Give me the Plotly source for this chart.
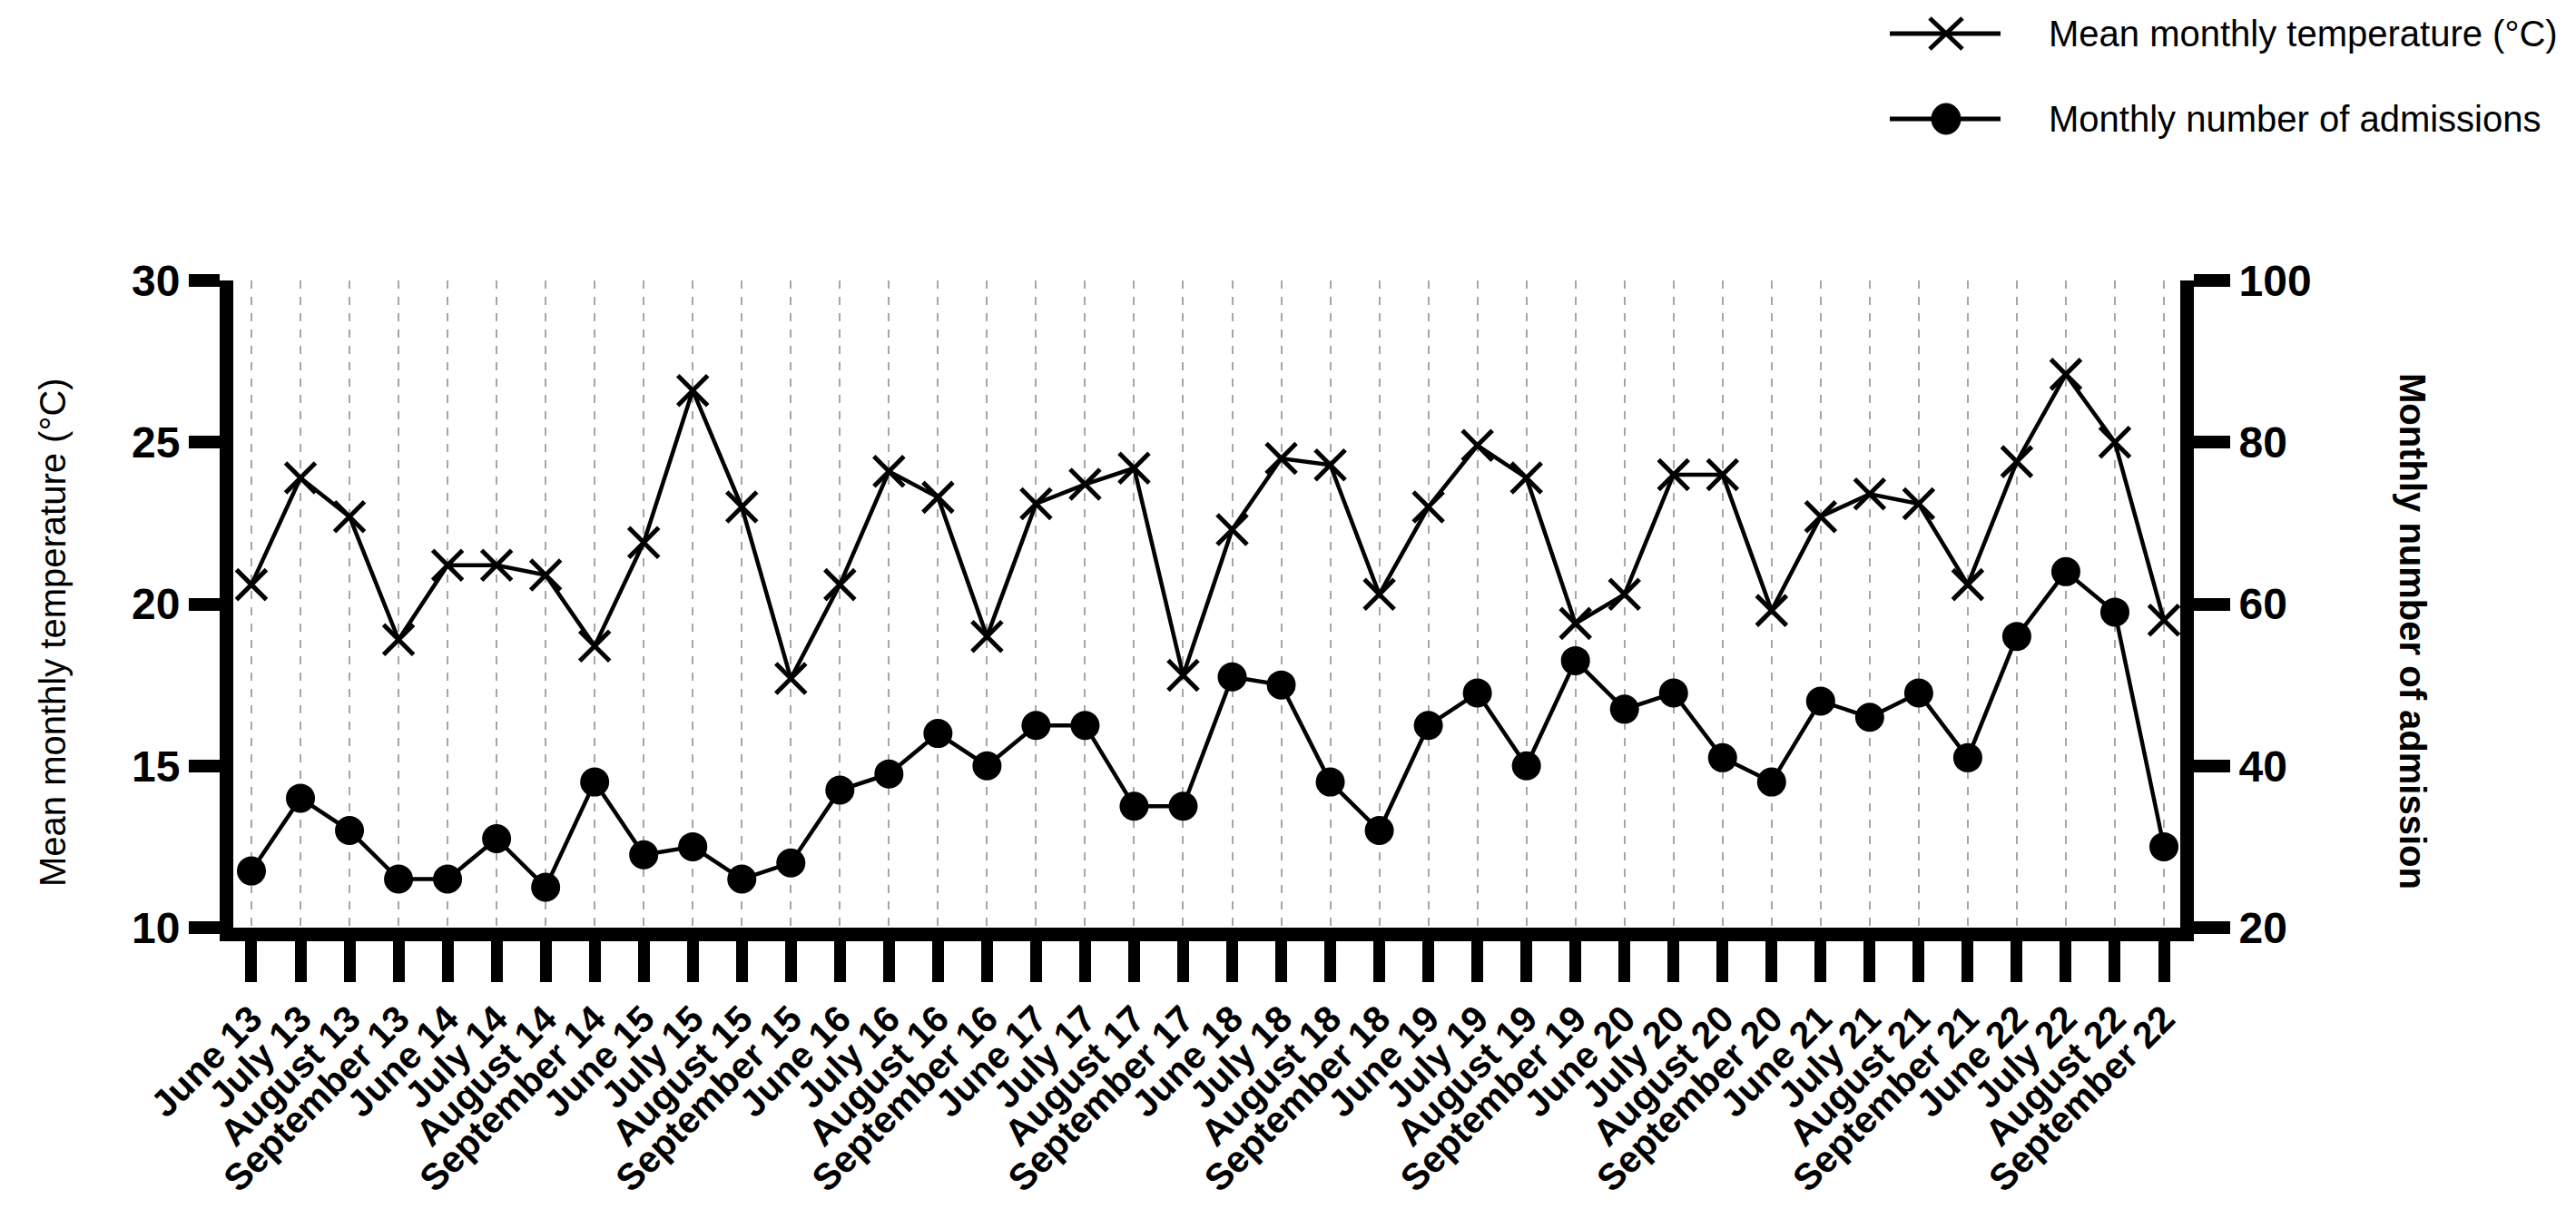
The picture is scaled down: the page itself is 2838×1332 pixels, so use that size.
import plotly.graph_objects as go

# ---------------- data ----------------
categories = [
    "June 13", "July 13", "August 13", "September 13",
    "June 14", "July 14", "August 14", "September 14",
    "June 15", "July 15", "August 15", "September 15",
    "June 16", "July 16", "August 16", "September 16",
    "June 17", "July 17", "August 17", "September 17",
    "June 18", "July 18", "August 18", "September 18",
    "June 19", "July 19", "August 19", "September 19",
    "June 20", "July 20", "August 20", "September 20",
    "June 21", "July 21", "August 21", "September 21",
    "June 22", "July 22", "August 22", "September 22",
]

temperature = [
    20.6, 23.9, 22.7, 18.9,
    21.2, 21.2, 20.9, 18.7,
    21.9, 26.6, 23.0, 17.7,
    20.6, 24.1, 23.3, 19.0,
    23.1, 23.7, 24.2, 17.8,
    22.3, 24.5, 24.3, 20.3,
    23.0, 24.9, 23.9, 19.4,
    20.3, 24.0, 24.0, 19.8,
    22.7, 23.4, 23.1, 20.6,
    24.4, 27.1, 25.0, 19.5,
]

admissions = [
    27, 36, 32, 26,
    26, 31, 25, 38,
    29, 30, 26, 28,
    37, 39, 44, 40,
    45, 45, 35, 35,
    51, 50, 38, 32,
    45, 49, 40, 53,
    47, 49, 41, 38,
    48, 46, 49, 41,
    56, 64, 59, 30,
]

temp_ticks = [10, 15, 20, 25, 30]
adm_ticks = [20, 40, 60, 80, 100]

temp_name = "Mean monthly temperature (°C)"
adm_name = "Monthly number of admissions"
left_title = "Mean monthly temperature (°C)"
right_title = "Monthly number of admission"

# ---------------- layout geometry ----------------
W, H = 2838, 1332
ML, MR, MT, MB = 249, 444, 301, 318
PW = W - ML - MR
PH = H - MT - MB

FONT = "Liberation Sans, Arial, Helvetica, sans-serif"


def px_x(px):
    return (px - ML) / PW


def px_y(py):
    return (H - MB - py) / PH


fig = go.Figure()

fig.add_trace(go.Scatter(
    x=categories, y=temperature, name=temp_name,
    mode="lines+markers",
    line=dict(color="black", width=4.5),
    marker=dict(symbol="x-thin", size=33, color="black",
                line=dict(color="black", width=5)),
    yaxis="y", showlegend=False,
))

fig.add_trace(go.Scatter(
    x=categories, y=admissions, name=adm_name,
    mode="lines+markers",
    line=dict(color="black", width=4.5),
    marker=dict(symbol="circle", size=32, color="black"),
    yaxis="y2", showlegend=False,
))

# ---------------- manual legend ----------------
shapes = []
annotations = []
leg_x0, leg_x1, leg_xc, leg_text_x = 2074, 2196, 2136, 2247
leg_rows = [(29, "x", temp_name), (123, "circle", adm_name)]
for py, sym, label in leg_rows:
    yp = px_y(py)
    shapes.append(dict(type="line", xref="paper", yref="paper",
                       x0=px_x(leg_x0), x1=px_x(leg_x1), y0=yp, y1=yp,
                       line=dict(color="black", width=5)))
    if sym == "x":
        for a, b in ((-17, 17), (17, -17)):
            shapes.append(dict(type="line", xref="paper", yref="paper",
                               xsizemode="pixel", ysizemode="pixel",
                               xanchor=px_x(leg_xc), yanchor=yp,
                               x0=-18, x1=18, y0=a, y1=b,
                               line=dict(color="black", width=5)))
    else:
        shapes.append(dict(type="circle", xref="paper", yref="paper",
                           xsizemode="pixel", ysizemode="pixel",
                           xanchor=px_x(leg_xc), yanchor=yp,
                           x0=-16, x1=16, y0=-17, y1=17,
                           fillcolor="black", line=dict(color="black", width=1)))
    annotations.append(dict(xref="paper", yref="paper",
                            x=px_x(leg_text_x), y=yp, xanchor="left", yanchor="middle",
                            text=label, showarrow=False,
                            font=dict(family=FONT, size=40, color="black")))

# axis titles
annotations.append(dict(xref="paper", yref="paper",
                        x=px_x(50), y=px_y(689), xanchor="center", yanchor="middle",
                        text=left_title, textangle=-90, showarrow=False,
                        font=dict(family=FONT, size=40, color="black")))
annotations.append(dict(xref="paper", yref="paper",
                        x=px_x(2650), y=px_y(687), xanchor="center", yanchor="middle",
                        text=right_title, textangle=90, showarrow=False,
                        font=dict(family=FONT, size=40, color="black", weight="bold")))

fig.update_layout(
    width=W, height=H,
    margin=dict(l=ML, r=MR, t=MT, b=MB, autoexpand=False),
    paper_bgcolor="white", plot_bgcolor="white",
    showlegend=False,
    shapes=shapes,
    annotations=annotations,
    xaxis=dict(
        type="category", categoryorder="array", categoryarray=categories,
        range=[-0.37, 39.333],
        tickmode="linear", tick0=0, dtick=1,
        showline=True, linewidth=15, linecolor="black",
        ticks="outside", ticklen=45, tickwidth=13, tickcolor="black",
        tickangle=-45,
        tickfont=dict(family=FONT, size=41, color="black", weight="bold"),
        showgrid=True, gridcolor="#a6a6a6", gridwidth=2, griddash="dash",
        zeroline=False, fixedrange=True,
    ),
    yaxis=dict(
        range=[10, 30], tickmode="array", tickvals=temp_ticks,
        showline=True, linewidth=15, linecolor="black",
        ticks="outside", ticklen=34, tickwidth=14, tickcolor="black",
        tickfont=dict(family=FONT, size=48, color="black", weight="bold"),
        showgrid=False, zeroline=False,
    ),
    yaxis2=dict(
        range=[20, 100], tickmode="array", tickvals=adm_ticks,
        overlaying="y", side="right", anchor="x",
        showline=True, linewidth=15, linecolor="black",
        ticks="outside", ticklen=40, tickwidth=14, tickcolor="black",
        tickfont=dict(family=FONT, size=48, color="black", weight="bold"),
        showgrid=False, zeroline=False,
    ),
)

fig.write_html("out.html")
